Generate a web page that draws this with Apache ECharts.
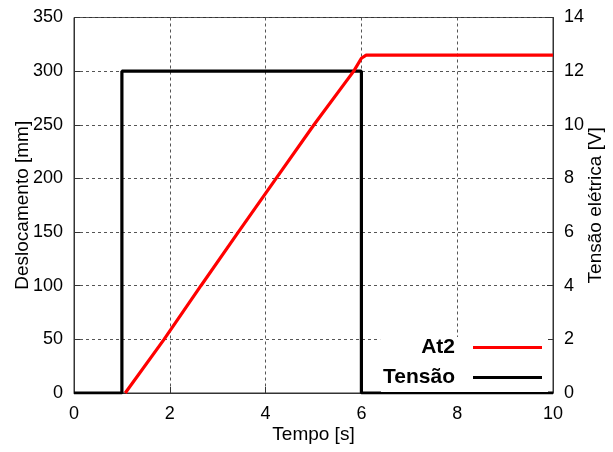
<!DOCTYPE html>
<html>
<head>
<meta charset="utf-8">
<script src="https://cdn.jsdelivr.net/npm/echarts@6/dist/echarts.min.js"></script>
<style>html,body{margin:0;padding:0;background:#fff}#c{width:613px;height:452px}</style>
</head>
<body>
<div id="c"></div>
<script>
// Deslocamento (At2) [tempo s, mm]
const at2Time = [1.07, 1.88, 2.65, 3.43, 4.22, 5.01, 5.84, 6.0, 6.1, 7, 8, 9, 10];
const at2Disp = [0, 50, 100, 150, 200, 250, 300, 312, 315, 315, 315, 315, 315];
// Tensão [tempo s, V]
const tensaoTime = [0, 1, 1, 6, 6, 10];
const tensaoVolt = [0, 0, 12, 12, 0, 0];
const xTicks = [0, 2, 4, 6, 8, 10];
const leftTicks = [0, 50, 100, 150, 200, 250, 300, 350];
const rightTicks = [0, 2, 4, 6, 8, 10, 12, 14];
const seriesNames = ['At2', 'Tensão'];

const FONT = 'Liberation Sans, Arial, sans-serif';
const chart = echarts.init(document.getElementById('c'), null, {renderer: 'canvas'});
const axisTxt = {color: '#000', fontSize: 18, fontFamily: FONT};
const nameTxt = {color: '#000', fontSize: 19, fontFamily: FONT};
const legendBase = {
  orient: 'vertical', align: 'right', icon: 'rect', itemWidth: 69, itemHeight: 3,
  backgroundColor: '#fff', borderWidth: 0, itemGap: 0,
  textStyle: {color: '#000', fontSize: 21, fontWeight: 'bold', fontFamily: FONT, padding: [0, 13, 0, 0]}
};
chart.setOption({
  animation: false,
  grid: {left: 74, right: 60, top: 17.5, bottom: 59, show: true, borderColor: '#333', borderWidth: 1,
         backgroundColor: 'transparent', containLabel: false, outerBoundsMode: 'none'},
  legend: [
    Object.assign({}, legendBase, {data: [seriesNames[0]], right: 65, top: 337, padding: [0, 6, 4, 41]}),
    Object.assign({}, legendBase, {data: [seriesNames[1]], right: 65, top: 362, padding: [5, 6, 4, 2]})
  ],
  xAxis: {
    type: 'value', min: xTicks[0], max: xTicks[xTicks.length - 1], interval: 2,
    name: 'Tempo [s]', nameLocation: 'middle', nameGap: 32, nameTextStyle: nameTxt, nameMoveOverlap: false,
    axisLine: {lineStyle: {color: '#333'}},
    axisTick: {inside: true, length: 6, lineStyle: {color: '#333'}},
    axisLabel: Object.assign({margin: 12}, axisTxt),
    splitLine: {show: true, lineStyle: {color: '#555', type: [3, 3], width: 1}}
  },
  yAxis: [
    {
      type: 'value', min: leftTicks[0], max: leftTicks[leftTicks.length - 1], interval: 50,
      name: 'Deslocamento [mm]', nameLocation: 'middle', nameGap: 42, nameTextStyle: nameTxt, nameMoveOverlap: false,
      axisLine: {show: true, lineStyle: {color: '#333'}},
      axisTick: {show: true, inside: true, length: 6, lineStyle: {color: '#333'}},
      axisLabel: Object.assign({margin: 11}, axisTxt),
      splitLine: {show: true, lineStyle: {color: '#555', type: [3, 3], width: 1}}
    },
    {
      type: 'value', min: rightTicks[0], max: rightTicks[rightTicks.length - 1], interval: 2,
      name: 'Tensão elétrica [V]', nameLocation: 'middle', nameGap: 33, nameRotate: 90, nameTextStyle: nameTxt, nameMoveOverlap: false,
      position: 'right',
      axisLine: {show: true, lineStyle: {color: '#333'}},
      axisTick: {show: true, inside: true, length: 6, lineStyle: {color: '#333'}},
      axisLabel: Object.assign({margin: 11}, axisTxt),
      splitLine: {show: false}
    }
  ],
  series: [
    {
      name: seriesNames[1], type: 'line', yAxisIndex: 1, symbol: 'none',
      data: tensaoTime.map((t, i) => [t, tensaoVolt[i]]),
      lineStyle: {color: '#000', width: 3.2}, itemStyle: {color: '#000'}, z: 3
    },
    {
      name: seriesNames[0], type: 'line', yAxisIndex: 0, symbol: 'none',
      data: at2Time.map((t, i) => [t, at2Disp[i]]),
      lineStyle: {color: '#ff0000', width: 3.2}, itemStyle: {color: '#ff0000'}, z: 4
    }
  ]
});
</script>
</body>
</html>
